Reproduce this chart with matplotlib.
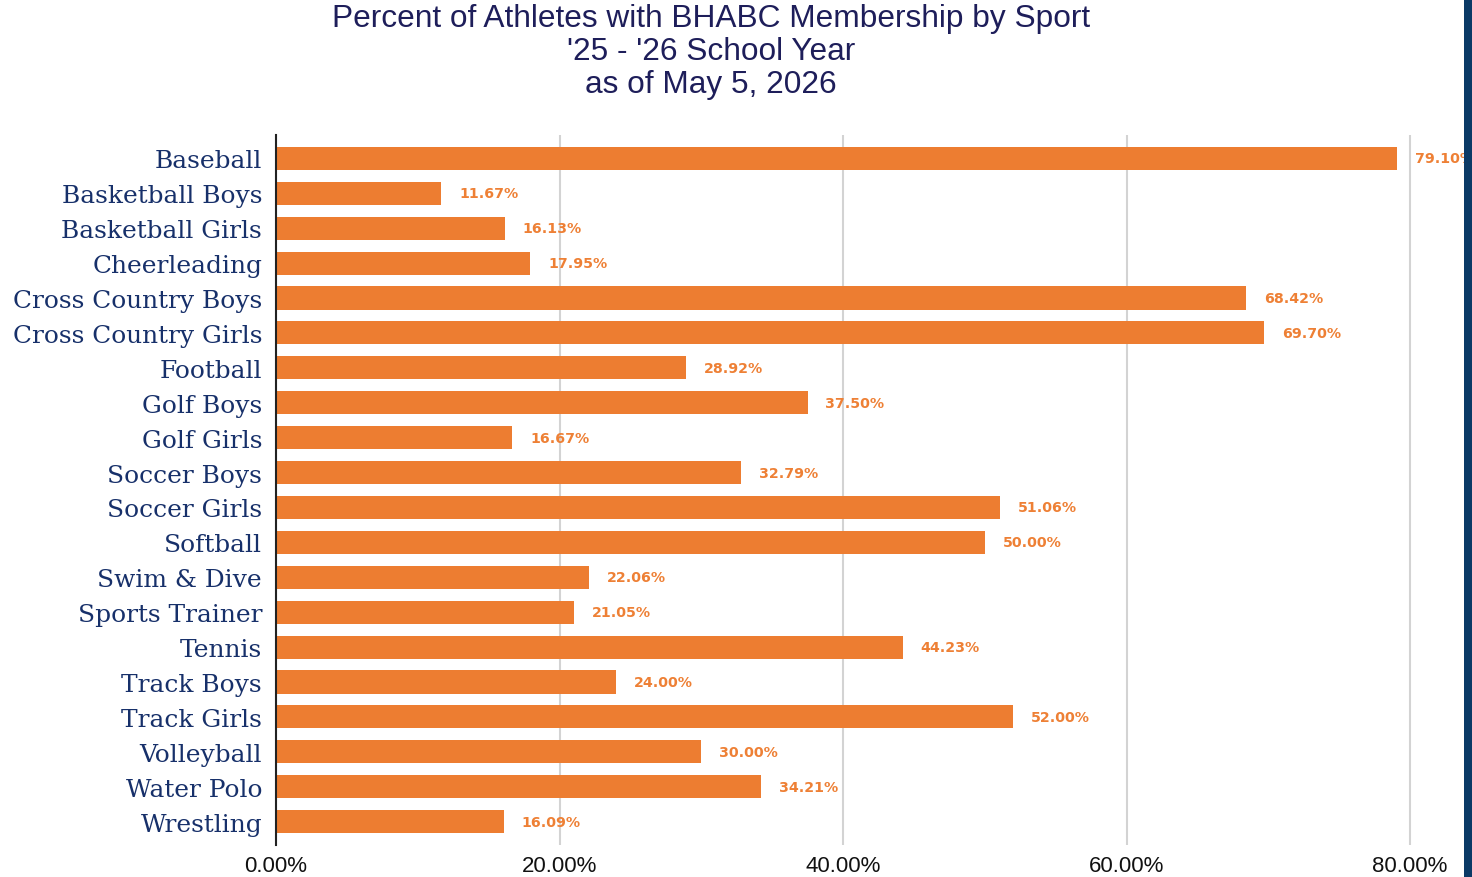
import matplotlib.pyplot as plt
from matplotlib.patches import Rectangle

# data
sports = [
    "Baseball", "Basketball Boys", "Basketball Girls", "Cheerleading",
    "Cross Country Boys", "Cross Country Girls", "Football", "Golf Boys",
    "Golf Girls", "Soccer Boys", "Soccer Girls", "Softball", "Swim & Dive",
    "Sports Trainer", "Tennis", "Track Boys", "Track Girls", "Volleyball",
    "Water Polo", "Wrestling",
]
percent = [
    79.10, 11.67, 16.13, 17.95, 68.42, 69.70, 28.92, 37.50, 16.67, 32.79,
    51.06, 50.00, 22.06, 21.05, 44.23, 24.00, 52.00, 30.00, 34.21, 16.09,
]
x_ticks = [0, 20, 40, 60, 80]

bar_color = "#ED7D31"
navy = "#17306A"

fig = plt.figure(figsize=(14.72, 8.78), dpi=100)
ax = fig.add_axes([276 / 1472, 1 - 846 / 878, (1464 - 276) / 1472, (846 - 136) / 878])

y = list(range(len(sports)))
ax.barh(y, percent, height=0.66, color=bar_color, zorder=2)

# value labels
for yi, v in zip(y, percent):
    ax.text(v + 1.25, yi, f"{v:.2f}%", va="center", ha="left",
            fontsize=10.2, fontweight="bold", family="DejaVu Sans",
            color="#EE8035", clip_on=False, zorder=3)

ax.set_ylim(len(sports) - 0.33, -0.67)
ax.set_xlim(0, 83.8)
ax.set_yticks(y)
ax.set_yticklabels(sports, fontsize=17.9, family="DejaVu Serif", color=navy)
ax.set_xticks(x_ticks)
ax.set_xticklabels([f"{t:.2f}%" for t in x_ticks], fontsize=16,
                   family="Liberation Sans", color="#111111")
ax.tick_params(axis="both", length=0)
ax.tick_params(axis="x", pad=7)
ax.tick_params(axis="y", pad=10)

# grid and spines
ax.grid(True, axis="x", color="#D3D3D3", linewidth=1.5, zorder=0)
for s in ["top", "right", "bottom"]:
    ax.spines[s].set_visible(False)
ax.spines["left"].set_color("#222222")
ax.spines["left"].set_linewidth(1.5)
ax.spines["left"].set_zorder(4)

# title
fig.text(711 / 1472, 1 - 4 / 878,
         "Percent of Athletes with BHABC Membership by Sport\n'25 - '26 School Year\nas of May 5, 2026",
         ha="center", va="top", fontsize=22.8, family="Liberation Sans",
         color="#1E1E5A", linespacing=1.13)

# navy strip on the right edge
fig.patches.append(Rectangle((1464 / 1472, 0), 8 / 1472, 1, transform=fig.transFigure,
                             facecolor="#0B3A66", edgecolor="none", zorder=10))

fig.savefig("out.png", dpi=100)
